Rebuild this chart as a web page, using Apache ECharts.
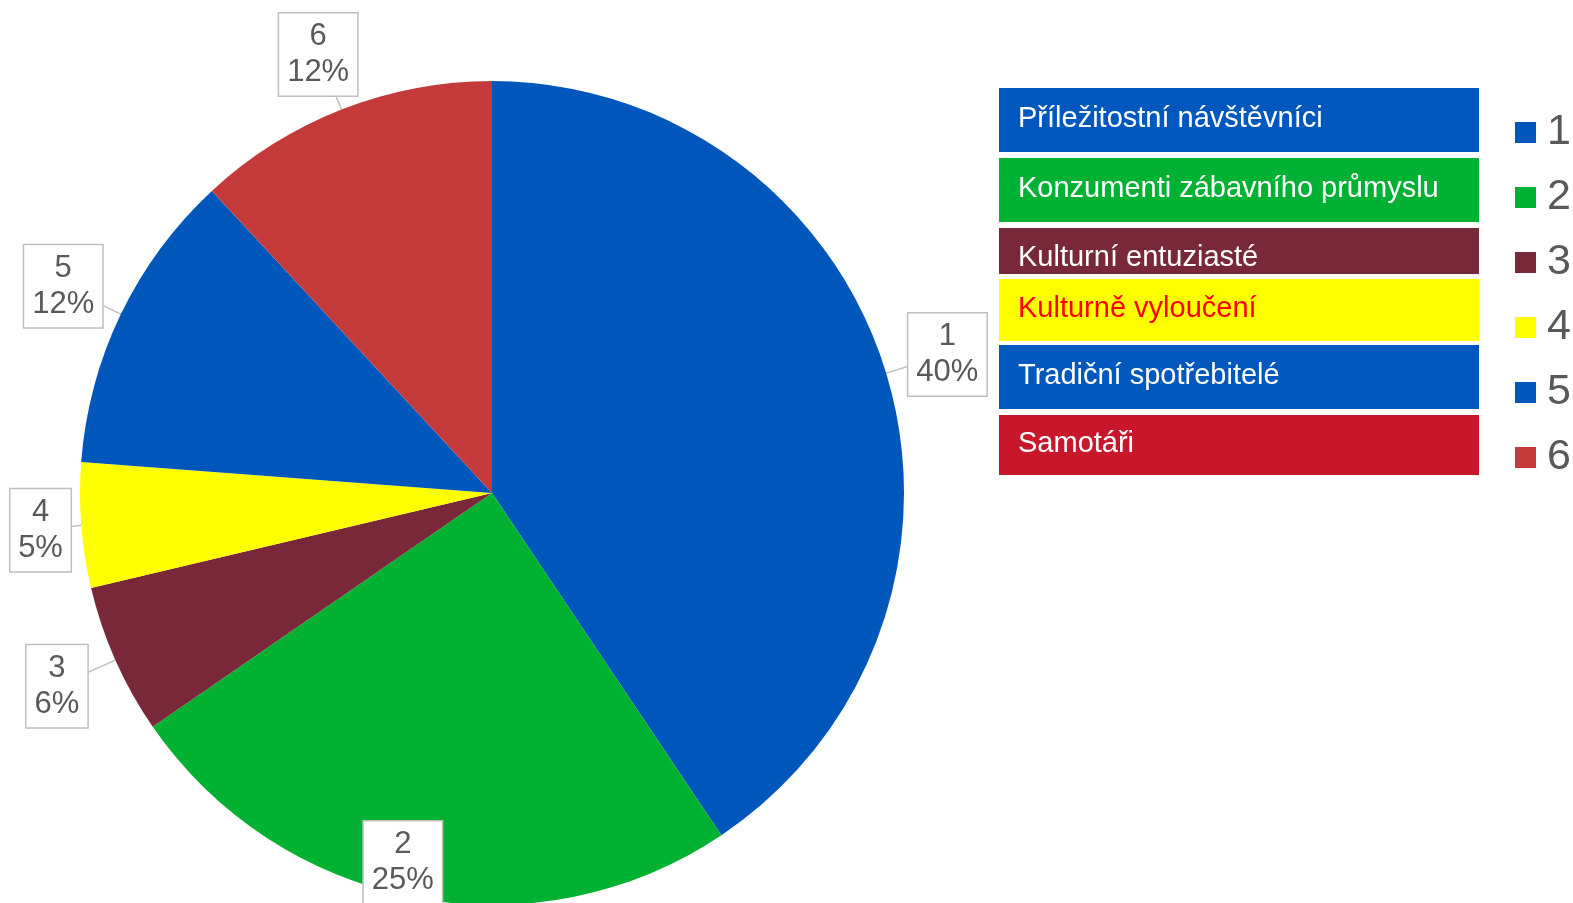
<!DOCTYPE html>
<html>

<head>
    <meta charset="utf-8">
    <title>ECharts</title>
    <script src="https://cdn.jsdelivr.net/npm/echarts@6/dist/echarts.min.js"></script>
    <style>
        body { margin: 0; background: #fff; }
    </style>
</head>

<body>
    <div id="main" style="width: 1573px;height:903px;"></div>
    <script type="text/javascript">
        // data
        var categories = ['1', '2', '3', '4', '5', '6'];
        var values = [40.6, 24.8, 5.9, 4.9, 11.9, 11.9];
        var sliceColors = ['#0057BB', '#00B132', '#79283A', '#FFFF00', '#0057BB', '#C43A3A'];
        var segmentNames = ['Příležitostní návštěvníci', 'Konzumenti zábavního průmyslu', 'Kulturní entuziasté',
            'Kulturně vyloučení', 'Tradiční spotřebitelé', 'Samotáři'];
        var segmentColors = ['#0057BD', '#00B134', '#79283A', '#FFFF00', '#0057BD', '#C8172A'];
        var segmentTextColors = ['#fff', '#fff', '#fff', '#FF0000', '#fff', '#fff'];

        var cx = 492, cy = 493, R = 412, labelDist = 476;
        var W = 1573, H = 903;
        var font = '"Liberation Sans", Arial, sans-serif';

        var total = values.reduce(function (s, v) { return s + v; }, 0);
        var midAngles = [];
        var acc = 0;
        for (var i = 0; i < values.length; i++) {
            midAngles.push((acc + values[i] / 2) / total * Math.PI * 2);
            acc += values[i];
        }

        // the coloured name boxes next to the chart
        var rows = [[88, 64], [158, 64], [228, 46], [279, 62], [345, 64], [415, 60]];
        var graphics = [];
        segmentNames.forEach(function (n, i) {
            graphics.push({
                type: 'rect',
                left: 999, top: rows[i][0],
                shape: { width: 480, height: rows[i][1] },
                style: { fill: segmentColors[i] }
            });
            graphics.push({
                type: 'text',
                left: 1018, top: rows[i][0] + rows[i][1] / 2 - 16 + (i == 2 ? 8 : 0),
                style: { text: n, fill: segmentTextColors[i], font: '29px ' + font }
            });
        });

        var myChart = echarts.init(document.getElementById('main'));
        var option = {
            animation: false,
            color: sliceColors,
            legend: {
                orient: 'vertical',
                left: 1510,
                top: 106,
                icon: 'rect',
                itemWidth: 21,
                itemHeight: 21,
                itemGap: 22,
                textStyle: { fontSize: 43, lineHeight: 42, color: '#595959', fontFamily: font, padding: [0, 0, 0, 6] },
                data: categories
            },
            graphic: graphics,
            series: [{
                type: 'pie',
                center: [cx, cy],
                radius: R,
                startAngle: 90,
                percentPrecision: 0,
                label: {
                    show: true,
                    position: 'outside',
                    formatter: '{b}\n{d}%',
                    fontSize: 31,
                    lineHeight: 36,
                    color: '#595959',
                    fontFamily: font,
                    align: 'center',
                    overflow: 'none',
                    backgroundColor: '#fff',
                    borderColor: '#BFBFBF',
                    borderWidth: 1.5,
                    padding: [5, 8]
                },
                labelLine: {
                    show: true,
                    length: 10,
                    length2: 0,
                    lineStyle: { color: '#BFBFBF', width: 1.5 }
                },
                labelLayout: function (p) {
                    var a = midAngles[p.dataIndex];
                    var w = p.labelRect.width, h = p.labelRect.height;
                    var x = cx + Math.sin(a) * labelDist;
                    var y = cy - Math.cos(a) * labelDist;
                    x = Math.max(9 + w / 2, Math.min(W - w / 2, x));
                    y = Math.max(12 + h / 2, Math.min(H + 2 - h / 2, y));
                    var ex = cx + Math.sin(a) * R, ey = cy - Math.cos(a) * R;
                    return {
                        x: x, y: y, align: 'center', verticalAlign: 'middle',
                        labelLinePoints: [[ex, ey], [(ex + x) / 2, (ey + y) / 2], [x, y]]
                    };
                },
                data: categories.map(function (c, i) { return { name: c, value: values[i] }; })
            }]
        };

        myChart.setOption(option);
    </script>
</body>

</html>
